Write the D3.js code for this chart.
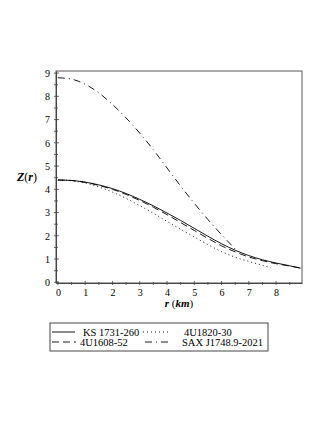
<!DOCTYPE html>
<html>
<head>
<meta charset="utf-8">
<script src="https://cdn.jsdelivr.net/npm/d3@7"></script>
<style>
  body { margin: 0; background: #fff; }
  text { font-family: "Liberation Serif", "Times New Roman", serif; }
</style>
</head>
<body>
<div id="chart"></div>
<script>
var svgWidth = 327;
var svgHeight = 423;

// radius (km) values and Z(r) values
var rKS = [0, 0.5, 1, 1.5, 2, 2.5, 3, 3.5, 4, 4.5, 5, 5.5, 6, 6.5, 7, 7.5, 8, 8.5, 8.9];
var zKS = [4.4, 4.38, 4.31, 4.19, 4.03, 3.82, 3.57, 3.29, 2.98, 2.66, 2.32, 1.98, 1.66, 1.38, 1.15, 0.97, 0.83, 0.71, 0.61];

var rU1608 = [0, 0.5, 1, 1.5, 2, 2.5, 3, 3.5, 4, 4.5, 5, 5.5, 6, 6.5, 7, 7.5, 8, 8.5, 8.9];
var zU1608 = [4.4, 4.38, 4.3, 4.17, 4.0, 3.78, 3.52, 3.23, 2.91, 2.57, 2.23, 1.89, 1.57, 1.31, 1.09, 0.93, 0.8, 0.7, 0.61];

var rU1820 = [0, 0.5, 1, 1.5, 2, 2.5, 3, 3.5, 4, 4.5, 5, 5.5, 6, 6.5, 7, 7.5, 7.8];
var zU1820 = [4.4, 4.37, 4.27, 4.1, 3.88, 3.61, 3.3, 2.97, 2.62, 2.28, 1.95, 1.62, 1.32, 1.08, 0.9, 0.73, 0.62];

var rSAX = [0, 0.5, 1, 1.5, 2, 2.5, 3, 3.5, 4, 4.5, 5, 5.5, 6, 6.5];
var zSAX = [8.8, 8.74, 8.52, 8.15, 7.65, 7.07, 6.42, 5.7, 4.92, 4.14, 3.4, 2.7, 2.05, 1.43];

var xTicks = [0, 1, 2, 3, 4, 5, 6, 7, 8];
var yTicks = [0, 1, 2, 3, 4, 5, 6, 7, 8, 9];

var series = [
  { name: "KS 1731-260", r: rKS, z: zKS, dash: null },
  { name: "4U1820-30", r: rU1820, z: zU1820, dash: "1,3" },
  { name: "4U1608-52", r: rU1608, z: zU1608, dash: "7,4" },
  { name: "SAX J1748.9-2021", r: rSAX, z: zSAX, dash: "7,4,1,4" }
];

var svg = d3.select("#chart")
  .append("svg")
  .attr("width", svgWidth)
  .attr("height", svgHeight);

var xScale = d3.scaleLinear().domain([-0.07, 8.95]).range([56, 302]);
var yScale = d3.scaleLinear().domain([-0.03, 9.09]).range([283, 71]);

// frame
svg.append("rect")
  .attr("x", 56).attr("y", 71)
  .attr("width", 246).attr("height", 212)
  .attr("fill", "none")
  .attr("stroke", "#555")
  .attr("stroke-width", 1);

// axes
var bottomAxis = d3.axisBottom(xScale).tickValues(xTicks).tickSize(0).tickPadding(6);
var leftAxis = d3.axisLeft(yScale).tickValues(yTicks).tickSize(0).tickPadding(6);

var gx = svg.append("g").attr("transform", "translate(0,283)").call(bottomAxis);
var gy = svg.append("g").attr("transform", "translate(56,0)").call(leftAxis);
[gx, gy].forEach(function(g) {
  g.select(".domain").attr("stroke", "#444");
  g.selectAll("text").attr("font-size", 10).attr("fill", "#000")
    .style("font-family", "'Liberation Serif', serif");
});

// tick marks, major and half steps
var xMinor = d3.range(0, 9, 0.5);
svg.append("g").selectAll("line").data(xMinor).enter().append("line")
  .attr("x1", d => xScale(d)).attr("x2", d => xScale(d))
  .attr("y1", d => d % 1 === 0 ? 281 : 282).attr("y2", 285)
  .attr("stroke", "#444").attr("stroke-width", 0.8);

var yMinor = d3.range(0, 9.01, 0.5);
svg.append("g").selectAll("line").data(yMinor).enter().append("line")
  .attr("y1", d => yScale(d)).attr("y2", d => yScale(d))
  .attr("x1", 54).attr("x2", d => d % 1 === 0 ? 59 : 58)
  .attr("stroke", "#444").attr("stroke-width", 0.8);

// curves
var line = d3.line()
  .x(d => xScale(d[0]))
  .y(d => yScale(d[1]))
  .curve(d3.curveMonotoneX);

series.forEach(function(s) {
  svg.append("path")
    .datum(d3.zip(s.r, s.z))
    .attr("d", line)
    .attr("fill", "none")
    .attr("stroke", "#000")
    .attr("stroke-width", 0.9)
    .attr("stroke-dasharray", s.dash);
});

// axis labels
var zLab = svg.append("text")
  .attr("x", 17).attr("y", 181)
  .attr("font-size", 12);
zLab.append("tspan").attr("font-weight", "bold").attr("font-style", "italic").text("Z");
zLab.append("tspan").text("(");
zLab.append("tspan").attr("font-weight", "bold").attr("font-style", "italic").text("r");
zLab.append("tspan").text(")");

var rLab = svg.append("text")
  .attr("x", 179).attr("y", 307)
  .attr("text-anchor", "middle")
  .attr("font-size", 11);
rLab.append("tspan").attr("font-weight", "bold").attr("font-style", "italic").text("r");
rLab.append("tspan").text(" (");
rLab.append("tspan").attr("font-weight", "bold").attr("font-style", "italic").text("km");
rLab.append("tspan").text(")");

// legend
var legend = svg.append("g");
legend.append("rect")
  .attr("x", 50).attr("y", 323)
  .attr("width", 218).attr("height", 28)
  .attr("fill", "none").attr("stroke", "#333").attr("stroke-width", 0.9);

var legendPos = [
  { x1: 52, x2: 75, tx: 83, y: 332 },
  { x1: 143, x2: 168, tx: 184, y: 332 },
  { x1: 52, x2: 76, tx: 80, y: 342 },
  { x1: 145, x2: 169, tx: 182, y: 342 }
];

series.forEach(function(s, i) {
  var p = legendPos[i];
  legend.append("line")
    .attr("x1", p.x1).attr("x2", p.x2)
    .attr("y1", p.y).attr("y2", p.y)
    .attr("stroke", "#000").attr("stroke-width", 0.9)
    .attr("stroke-dasharray", s.dash);
  legend.append("text")
    .attr("x", p.tx).attr("y", p.y + 3.5)
    .attr("font-size", 10.5)
    .text(s.name);
});
</script>
</body>
</html>
